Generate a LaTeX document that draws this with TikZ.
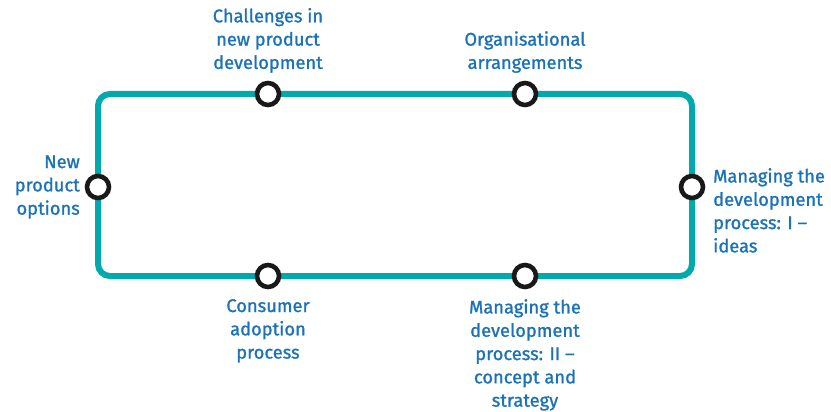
\documentclass[tikz,border=0pt]{standalone}
\usepackage{fontspec}
\setmainfont{Fira Sans}[FakeBold=1.2]
\definecolor{teal1}{HTML}{00A9AC}
\definecolor{txtblue}{HTML}{1B72B8}
\begin{document}
\begin{tikzpicture}[x=1pt,y=-1pt,
  track/.style={draw=teal1,line width=6pt,rounded corners=12pt},
  stop/.style={circle,draw=black!90,line width=4.6pt,fill=white,minimum size=22pt,inner sep=0pt},
  lbl/.style={text=txtblue,font=\fontsize{18.3}{23.3}\selectfont,inner sep=0pt,align=center}]
\useasboundingbox (0,0) rectangle (831,412);
\draw[track] (98,94) rectangle (692,276);
\node[stop] (s1) at (268,94) {};
\node[stop] (s2) at (525,94) {};
\node[stop] (s3) at (98,187) {};
\node[stop] (s4) at (692,187) {};
\node[stop] (s5) at (268,276) {};
\node[stop] (s6) at (525,276) {};
\node[lbl,anchor=south] (t1) at (268,73) {Challenges in\\new product\\development};
\node[lbl,anchor=south] (t2) at (525,73) {Organisational\\arrangements};
\node[lbl,align=right,anchor=east] (t3) at (80,187) {New\\product\\options};
\node[lbl,align=left,anchor=north west] (t4) at (713,168) {Managing the\\development\\process: I --\\ideas};
\node[lbl,anchor=north] (t5) at (268,299) {Consumer\\adoption\\process};
\node[lbl,anchor=north] (t6) at (525,299) {Managing the\\development\\process: II --\\concept and\\strategy};
\end{tikzpicture}
\end{document}
